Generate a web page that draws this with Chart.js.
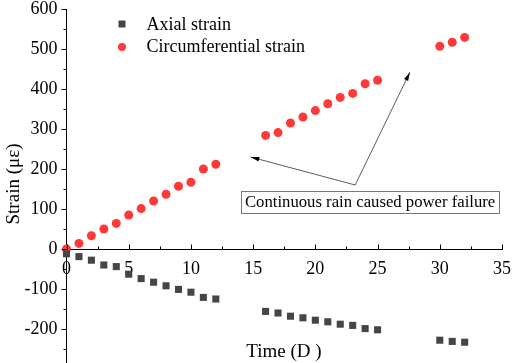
<!DOCTYPE html>
<html lang="en">
<head>
    <meta charset="UTF-8">
    <title>Strain vs time</title>
    <style>
        body { margin: 0; background: #ffffff; }
        .frame { width: 512px; height: 363px; overflow: hidden; }
        .chart-box { width: 512px; height: 363px; }
    </style>
    <script src="https://cdn.jsdelivr.net/npm/chart.js"></script>
</head>
<body>
    <div class="frame">
        <div class="chart-box" id="box">
            <canvas id="strainChart"></canvas>
        </div>
    </div>
    <script>
        // days and readings
        const axialDays = [0, 1, 2, 3, 4, 5, 6, 7, 8, 9, 10, 11, 12, 16, 17, 18, 19, 20, 21, 22, 23, 24, 25, 30, 31, 32];
        const axialStrain = [-12, -19, -28, -40, -44, -63, -74, -83, -92, -101, -108, -121, -125,
                             -156, -160, -168, -172, -178, -182, -188, -191, -199, -202, -228, -231, -233];
        const circDays = [0, 1, 2, 3, 4, 5, 6, 7, 8, 9, 10, 11, 12, 16, 17, 18, 19, 20, 21, 22, 23, 24, 25, 30, 31, 32];
        const circStrain = [0, 14, 33, 50, 64, 85, 101, 120, 137, 157, 167, 200, 212,
                            284, 291, 315, 330, 346, 363, 379, 389, 413, 422, 507, 517, 529];

        const xTicks = [0, 5, 10, 15, 20, 25, 30, 35];
        const yTicks = [-200, -100, 0, 100, 200, 300, 400, 500, 600];
        const seriesNames = ['Axial strain', 'Circumferential strain'];
        const noteText = 'Continuous rain caused power failure';

        const serif = '"Liberation Serif", "Times New Roman", serif';

        // arrows, legend, box and titles
        const extras = {
            id: 'extras',
            afterDraw(chart) {
                const ctx = chart.ctx;
                const xs = chart.scales.x, ys = chart.scales.y;
                const area = chart.chartArea;
                const px = v => xs.getPixelForValue(v);
                const py = v => ys.getPixelForValue(v);
                ctx.save();
                ctx.strokeStyle = '#000';
                ctx.fillStyle = '#000';
                ctx.lineWidth = 1;

                // y ticks, pointing left
                const x0 = area.left;
                for (let v = -250; v <= 600; v += 50) {
                    const len = v % 100 === 0 ? 5 : 3;
                    ctx.beginPath();
                    ctx.moveTo(x0 - len, Math.round(py(v)) + 0.5);
                    ctx.lineTo(x0, Math.round(py(v)) + 0.5);
                    ctx.stroke();
                }
                // x ticks, pointing up
                const y0 = Math.round(py(0)) + 0.5;
                for (let v = 0; v <= 35; v += 2.5) {
                    const len = v % 5 === 0 ? 5 : 3;
                    ctx.beginPath();
                    ctx.moveTo(Math.round(px(v)) + 0.5, y0 - len);
                    ctx.lineTo(Math.round(px(v)) + 0.5, y0);
                    ctx.stroke();
                }

                // arrows from the note
                function arrow(fx, fy, tx, ty) {
                    const ax = px(fx), ay = py(fy), bx = px(tx), by = py(ty);
                    const ang = Math.atan2(by - ay, bx - ax);
                    ctx.beginPath();
                    ctx.moveTo(ax, ay);
                    ctx.lineTo(bx, by);
                    ctx.stroke();
                    ctx.beginPath();
                    ctx.moveTo(bx, by);
                    ctx.lineTo(bx - 9 * Math.cos(ang - 0.25), by - 9 * Math.sin(ang - 0.25));
                    ctx.lineTo(bx - 9 * Math.cos(ang + 0.25), by - 9 * Math.sin(ang + 0.25));
                    ctx.closePath();
                    ctx.fill();
                }
                ctx.strokeStyle = '#333';
                ctx.lineWidth = 0.8;
                arrow(23.2, 160, 14.8, 230);
                arrow(23.2, 160, 27.6, 442);

                // note box
                ctx.font = '16.7px ' + serif;
                const tw = ctx.measureText(noteText).width;
                const cx = px(24.4), cy = py(118);
                ctx.fillStyle = '#fff';
                ctx.fillRect(cx - tw / 2 - 4, cy - 11, tw + 8, 22);
                ctx.strokeStyle = '#777';
                ctx.lineWidth = 1;
                ctx.strokeRect(Math.round(cx - tw / 2 - 4) + 0.5, Math.round(cy - 11) + 0.5, Math.round(tw + 8), 22);
                ctx.fillStyle = '#000';
                ctx.textAlign = 'center';
                ctx.textBaseline = 'middle';
                ctx.fillText(noteText, cx, cy + 1);

                // legend
                ctx.font = '18px ' + serif;
                ctx.textAlign = 'left';
                ctx.fillStyle = '#454545';
                ctx.fillRect(area.left + 52, 20.5, 7, 7);
                ctx.fillStyle = '#ff3838';
                ctx.beginPath();
                ctx.arc(area.left + 55.5, 47, 4, 0, Math.PI * 2);
                ctx.fill();
                ctx.fillStyle = '#000';
                ctx.fillText(seriesNames[0], area.left + 80, 25);
                ctx.fillText(seriesNames[1], area.left + 80, 47);

                // axis titles
                ctx.font = '19px ' + serif;
                ctx.textAlign = 'center';
                ctx.fillText('Time (D )', 284, 352);
                ctx.translate(14, 184);
                ctx.rotate(-Math.PI / 2);
                ctx.fillText('Strain (\u03bc\u03b5)', 0, 0);
                ctx.restore();
            }
        };

        const chart = new Chart(document.getElementById('strainChart'), {
            type: 'scatter',
            data: {
                datasets: [{
                    label: seriesNames[0],
                    data: axialDays.map((d, i) => ({ x: d, y: axialStrain[i] })),
                    pointStyle: 'rect',
                    pointRadius: 5,
                    backgroundColor: '#454545',
                    borderWidth: 0
                }, {
                    label: seriesNames[1],
                    data: circDays.map((d, i) => ({ x: d, y: circStrain[i] })),
                    pointStyle: 'circle',
                    pointRadius: 4.5,
                    backgroundColor: '#ff3838',
                    borderWidth: 0
                }]
            },
            options: {
                responsive: true,
                maintainAspectRatio: false,
                animation: false,
                clip: false,
                layout: { padding: { top: 9, right: 10, left: 0, bottom: 0 } },
                plugins: {
                    legend: { display: false },
                    tooltip: { enabled: false }
                },
                scales: {
                    x: {
                        type: 'linear',
                        position: { y: 0 },
                        min: 0,
                        max: 35,
                        afterBuildTicks: s => { s.ticks = xTicks.map(v => ({ value: v })); },
                        afterFit: s => {
                            s.height = 0;
                            s.paddingLeft = 0;
                            s.paddingRight = 0;
                        },
                        grid: { display: false, drawTicks: false },
                        border: { display: true, color: '#000', width: 1 },
                        ticks: {
                            padding: 9,
                            color: '#000',
                            font: { family: serif, size: 18 }
                        }
                    },
                    y: {
                        min: -285,
                        max: 600,
                        afterBuildTicks: s => { s.ticks = yTicks.map(v => ({ value: v })); },
                        afterFit: s => {
                            s.width = 66.5;
                            s.paddingTop = 0;
                            s.paddingBottom = 0;
                        },
                        grid: { display: false, drawTicks: false },
                        border: { display: true, color: '#000', width: 1 },
                        ticks: {
                            padding: 9,
                            color: '#000',
                            font: { family: serif, size: 18 }
                        }
                    }
                }
            },
            plugins: [extras]
        });

        // the plot should run to the bottom edge; grow the box under the frame if it falls short
        const gap = 363 - chart.chartArea.bottom;
        if (gap > 0) {
            document.getElementById('box').style.height = (363 + gap) + 'px';
            chart.resize();
        }
    </script>
</body>
</html>
